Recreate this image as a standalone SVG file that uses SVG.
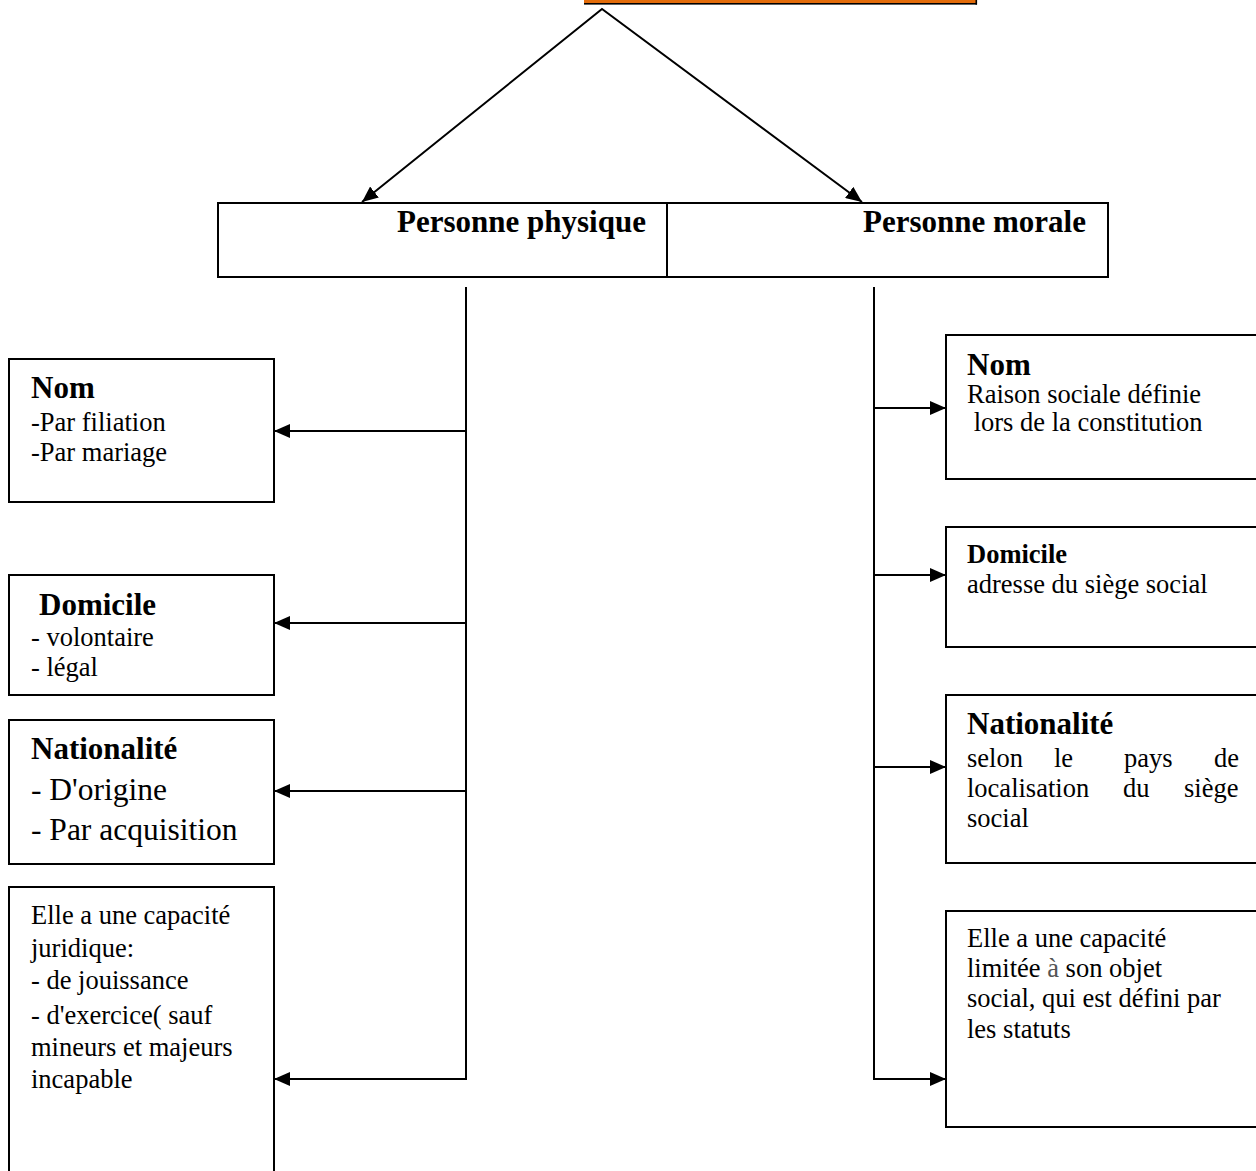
<svg xmlns="http://www.w3.org/2000/svg" width="1256" height="1171" viewBox="0 0 1256 1171">
<defs>
<marker id="ah" viewBox="0 0 16 14" refX="16" refY="7" markerWidth="16" markerHeight="14" markerUnits="userSpaceOnUse" orient="auto-start-reverse">
<path d="M0,0 L16,7 L0,14 z" fill="#000"/>
</marker>
<style>
.box{fill:#fff;stroke:#000;stroke-width:2}
.con{fill:none;stroke:#000;stroke-width:2}
.t{font-family:"Liberation Serif","Times New Roman",serif;font-size:26.5px;fill:#000}
.tb{font-family:"Liberation Serif","Times New Roman",serif;font-size:31px;font-weight:bold;fill:#000}
.tbs{font-family:"Liberation Serif","Times New Roman",serif;font-size:26.5px;font-weight:bold;fill:#000}
.tl{font-family:"Liberation Serif","Times New Roman",serif;font-size:31.5px;fill:#000}
</style>
</defs>
<rect width="1256" height="1171" fill="#fff"/>

<g id="top">
<rect x="584" y="0" width="392" height="3.2" fill="#E36C0A"/>
<rect x="584" y="3" width="393" height="1.6" fill="#000"/>
<rect x="975.5" y="0" width="1.6" height="4.6" fill="#000"/>
</g>

<g id="personnes">
<rect class="box" x="218" y="203" width="890" height="74"/>
<line x1="667" y1="203" x2="667" y2="277" stroke="#000" stroke-width="2"/>
<text class="tb" x="397" y="232" font-size="32">Personne physique</text>
<text class="tb" x="863" y="232" font-size="32">Personne morale</text>
</g>

<g id="pp-nom">
<rect class="box" x="9" y="359" width="265" height="143"/>
<text class="tb" x="31" y="398">Nom</text>
<text class="t" x="31" y="431">-Par filiation</text>
<text class="t" x="31" y="461">-Par mariage</text>
</g>

<g id="pp-domicile">
<rect class="box" x="9" y="575" width="265" height="120"/>
<text class="tb" x="39" y="615">Domicile</text>
<text class="t" x="31" y="646">- volontaire</text>
<text class="t" x="31" y="676">- légal</text>
</g>

<g id="pp-nationalite">
<rect class="box" x="9" y="720" width="265" height="144"/>
<text class="tb" x="31" y="759">Nationalité</text>
<text class="tl" x="31" y="800">- D'origine</text>
<text class="tl" x="31" y="840">- Par acquisition</text>
</g>

<g id="pp-capacite">
<rect class="box" x="9" y="887" width="265" height="300"/>
<text class="t" x="31" y="924">Elle a une capacité</text>
<text class="t" x="31" y="957">juridique:</text>
<text class="t" x="31" y="989">- de jouissance</text>
<text class="t" x="31" y="1024">- d'exercice( sauf</text>
<text class="t" x="31" y="1056">mineurs et majeurs</text>
<text class="t" x="31" y="1088">incapable</text>
</g>

<g id="pm-nom">
<rect class="box" x="946" y="335" width="320" height="144"/>
<text class="tb" x="967" y="375">Nom</text>
<text class="t" x="967" y="403" font-size="25">Raison sociale définie</text>
<text class="t" x="967" y="431" font-size="25" xml:space="preserve"> lors de la constitution</text>
</g>

<g id="pm-domicile">
<rect class="box" x="946" y="527" width="320" height="120"/>
<text class="tbs" x="967" y="563">Domicile</text>
<text class="t" x="967" y="593" font-size="26">adresse du siège social</text>
</g>

<g id="pm-nationalite">
<rect class="box" x="946" y="695" width="320" height="168"/>
<text class="tb" x="967" y="734">Nationalité</text>
<text class="t" y="767" font-size="26"><tspan x="967">selon</tspan><tspan x="1054">le</tspan><tspan x="1124">pays</tspan><tspan x="1214">de</tspan></text>
<text class="t" y="797" font-size="26"><tspan x="967">localisation</tspan><tspan x="1123">du</tspan><tspan x="1184">siège</tspan></text>
<text class="t" x="967" y="827" font-size="26">social</text>
</g>

<g id="pm-capacite">
<rect class="box" x="946" y="911" width="320" height="216"/>
<text class="t" x="967" y="947">Elle a une capacité</text>
<text class="t" x="967" y="977">limitée <tspan fill="#555">à</tspan> son objet</text>
<text class="t" x="967" y="1007">social, qui est défini par</text>
<text class="t" x="967" y="1038">les statuts</text>
</g>

<g id="connectors">
<path class="con" d="M362,202 L602,9 L862,202" marker-start="url(#ah)" marker-end="url(#ah)"/>
<path class="con" d="M466,287 V1079 H274" marker-end="url(#ah)"/>
<path class="con" d="M466,431 H274" marker-end="url(#ah)"/>
<path class="con" d="M466,623 H274" marker-end="url(#ah)"/>
<path class="con" d="M466,791 H274" marker-end="url(#ah)"/>
<path class="con" d="M874,287 V1079 H946" marker-end="url(#ah)"/>
<path class="con" d="M874,408 H946" marker-end="url(#ah)"/>
<path class="con" d="M874,575 H946" marker-end="url(#ah)"/>
<path class="con" d="M874,767 H946" marker-end="url(#ah)"/>
</g>
</svg>
